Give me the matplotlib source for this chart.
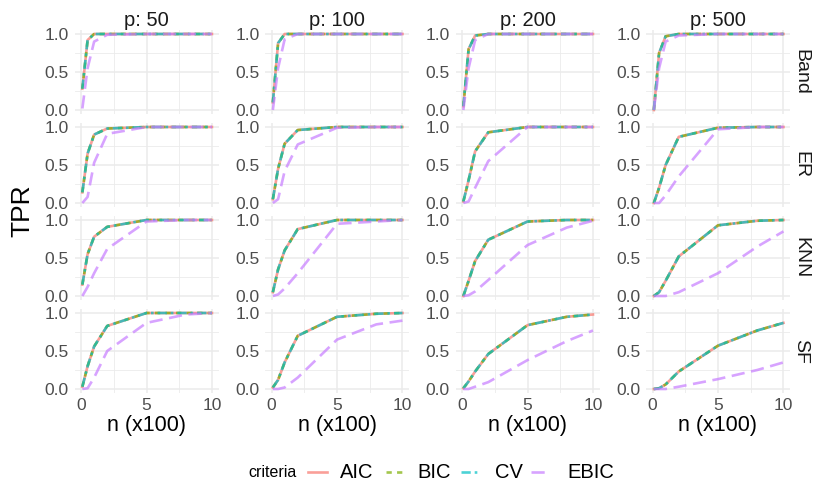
import numpy as np
import matplotlib
matplotlib.use("Agg")
import matplotlib.pyplot as plt
from matplotlib.lines import Line2D

plt.rcParams['font.family'] = ['Liberation Sans', 'DejaVu Sans']

# n (x100) values where TPR was measured
n = [0.1, 0.5, 1, 2, 5, 8, 10]

p_values = [50, 100, 200, 500]
graphs = ["Band", "ER", "KNN", "SF"]
criteria = ["AIC", "BIC", "CV", "EBIC"]

# one row per p: AIC/BIC/CV curve and EBIC curve for each graph type
band_ic = [
    [0.28, 0.92, 1.00, 1.00, 1.00, 1.00, 1.00],
    [0.10, 0.88, 1.00, 1.00, 1.00, 1.00, 1.00],
    [0.05, 0.80, 0.98, 1.00, 1.00, 1.00, 1.00],
    [0.00, 0.75, 0.97, 1.00, 1.00, 1.00, 1.00],
]
band_ebic = [
    [0.02, 0.55, 0.90, 0.99, 1.00, 1.00, 1.00],
    [0.00, 0.55, 0.93, 1.00, 1.00, 1.00, 1.00],
    [0.00, 0.55, 0.92, 1.00, 1.00, 1.00, 1.00],
    [0.00, 0.55, 0.90, 0.98, 1.00, 1.00, 1.00],
]
er_ic = [
    [0.14, 0.65, 0.90, 0.98, 1.00, 1.00, 1.00],
    [0.05, 0.45, 0.78, 0.96, 1.00, 1.00, 1.00],
    [0.02, 0.30, 0.68, 0.93, 1.00, 1.00, 1.00],
    [0.00, 0.20, 0.50, 0.87, 0.99, 1.00, 1.00],
]
er_ebic = [
    [0.00, 0.08, 0.53, 0.91, 1.00, 1.00, 1.00],
    [0.00, 0.05, 0.42, 0.77, 0.99, 1.00, 1.00],
    [0.00, 0.02, 0.20, 0.55, 1.00, 1.00, 1.00],
    [0.00, 0.00, 0.10, 0.35, 0.97, 1.00, 1.00],
]
knn_ic = [
    [0.15, 0.55, 0.78, 0.91, 1.00, 1.00, 1.00],
    [0.05, 0.35, 0.60, 0.88, 1.00, 1.00, 1.00],
    [0.00, 0.20, 0.46, 0.74, 0.98, 1.00, 1.00],
    [0.00, 0.05, 0.20, 0.52, 0.93, 0.99, 1.00],
]
knn_ebic = [
    [0.00, 0.12, 0.30, 0.62, 0.98, 1.00, 1.00],
    [0.00, 0.02, 0.10, 0.30, 0.95, 0.98, 1.00],
    [0.00, 0.01, 0.06, 0.21, 0.67, 0.90, 0.99],
    [0.00, 0.00, 0.00, 0.05, 0.30, 0.65, 0.85],
]
sf_ic = [
    [0.03, 0.30, 0.56, 0.83, 1.00, 1.00, 1.00],
    [0.02, 0.12, 0.35, 0.70, 0.95, 0.99, 1.00],
    [0.01, 0.10, 0.23, 0.46, 0.84, 0.95, 0.98],
    [0.00, 0.01, 0.06, 0.23, 0.57, 0.77, 0.87],
]
sf_ebic = [
    [0.00, 0.01, 0.15, 0.50, 0.87, 0.98, 1.00],
    [0.00, 0.00, 0.02, 0.15, 0.65, 0.85, 0.90],
    [0.00, 0.00, 0.03, 0.09, 0.38, 0.63, 0.77],
    [0.00, 0.00, 0.00, 0.03, 0.13, 0.25, 0.35],
]
ic_data = [band_ic, er_ic, knn_ic, sf_ic]
ebic_data = [band_ebic, er_ebic, knn_ebic, sf_ebic]

colors = ["#F8766D", "#7CAE00", "#00BFC4", "#C77CFF"]
styles = ["-", (0, (2, 2)), (0, (3.5, 1.5, 1, 1.5)), (0, (5, 2.5))]
LW = 1.9
ALPHA = 0.7

W, H = 815, 490
fig = plt.figure(figsize=(W / 100, H / 100), dpi=100)

# panel boxes in pixels
col_left = [74.5, 265, 455.5, 646]
row_top = [30.2, 123.2, 216.2, 309.2]
pw, ph = 144, 83.6

for r, g in enumerate(graphs):
    for c, p in enumerate(p_values):
        ax = fig.add_axes([col_left[c] / W, 1 - (row_top[r] + ph) / H, pw / W, ph / H])
        ax.set_xlim(-0.5, 10.5)
        ax.set_ylim(-0.05, 1.05)
        ax.set_xticks([0, 5, 10])
        ax.set_xticks([2.5, 7.5], minor=True)
        ax.set_yticks([0, 0.5, 1])
        ax.set_yticks([0.25, 0.75], minor=True)
        ax.set_yticklabels(["0.0", "0.5", "1.0"])
        ax.grid(True, which="major", color="#EBEBEB", lw=1.1)
        ax.grid(True, which="minor", color="#EBEBEB", lw=0.6)
        ax.set_axisbelow(True)
        for s in ax.spines.values():
            s.set_visible(False)
        ax.tick_params(which="both", length=0, labelsize=12.5, labelcolor="#4D4D4D", pad=4)
        if r < 3:
            ax.set_xticklabels([])
        else:
            ax.set_xlabel("n (x100)", fontsize=15.5, labelpad=1)

        ic = np.array(ic_data[r][c])
        eb = np.array(ebic_data[r][c])
        series = [ic, ic, ic, eb]
        for k in range(4):
            ax.plot(n, series[k], color=colors[k], ls=styles[k], lw=LW, alpha=ALPHA)

        if r == 0:
            ax.set_title("p: %d" % p, fontsize=14.5, pad=3, color="#1A1A1A")
        if c == 3:
            ax.text(1.018, 0.5, g, transform=ax.transAxes, rotation=-90,
                    fontsize=14, color="#1A1A1A", va="center", ha="left")

fig.text(22 / W, 1 - 211 / H, "TPR", rotation=90, fontsize=19, va="center", ha="center")

# legend drawn by hand to follow ggplot's horizontal layout
ly = 1 - 472 / H
fig.text(297 / W, ly, "criteria", fontsize=11.5, va="center", ha="right")
key_x = [308, 386, 461, 531]
text_x = [340, 417, 495, 567]
for k in range(4):
    fig.add_artist(Line2D([key_x[k] / W, (key_x[k] + 19) / W], [ly, ly], color=colors[k],
                          ls=styles[k], lw=LW, alpha=ALPHA))
    fig.text(text_x[k] / W, ly, criteria[k], fontsize=14.5, va="center", ha="left")

fig.savefig("out.png", dpi=100)
